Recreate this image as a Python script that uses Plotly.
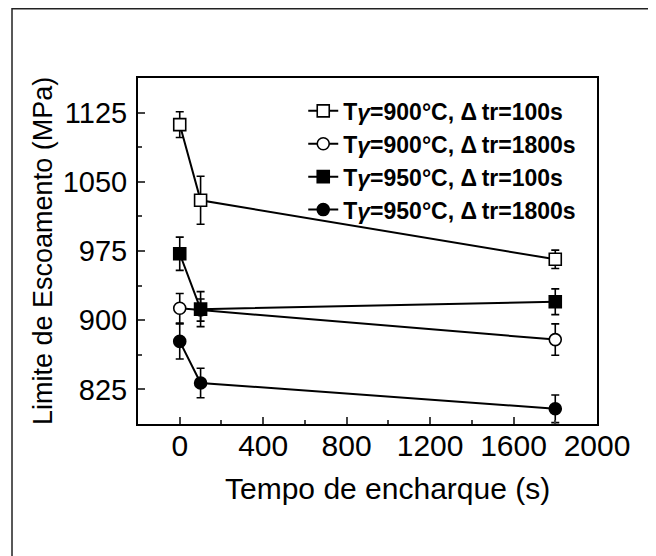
import plotly.graph_objects as go

times = [0, 100, 1800]
s1_vals = [1112, 1030, 966]
s1_err = [14, 26, 10]
s2_vals = [913, 911, 879]
s2_err = [16, 12, 17]
s3_vals = [972, 912, 920]
s3_err = [18, 19, 14]
s4_vals = [877, 832, 804]
s4_err = [19, 16, 15]

names = [
    "<b>T<i>γ</i>=900°C, Δ\u2009tr=100s</b>",
    "<b>T<i>γ</i>=900°C, Δ\u2009tr=1800s</b>",
    "<b>T<i>γ</i>=950°C, Δ\u2009tr=100s</b>",
    "<b>T<i>γ</i>=950°C, Δ\u2009tr=1800s</b>",
]
series = [(s1_vals, s1_err, "square", "white"),
          (s2_vals, s2_err, "circle", "white"),
          (s3_vals, s3_err, "square", "black"),
          (s4_vals, s4_err, "circle", "black")]

x_ticks = [0, 400, 800, 1200, 1600, 2000]
y_ticks = [825, 900, 975, 1050, 1125]

fig = go.Figure()
for (vals, err, sym, fill), nm in zip(series, names):
    fig.add_trace(go.Scatter(
        x=times, y=vals, name=nm, mode="lines+markers",
        line=dict(color="black", width=2),
        marker=dict(symbol=sym, size=12, color=fill, line=dict(color="black", width=1.6)),
        error_y=dict(type="data", array=err, visible=True, color="black", thickness=1.6, width=4),
    ))

font_family = "Liberation Sans, Arial, sans-serif"
fig.update_layout(
    width=656, height=556,
    margin=dict(l=130, r=67, t=70, b=140),
    paper_bgcolor="white", plot_bgcolor="white",
    font=dict(family=font_family, color="black", size=30),
    showlegend=True,
    legend=dict(x=0.36, y=0.967, xanchor="left", yanchor="top",
                bgcolor="rgba(0,0,0,0)", font=dict(size=23, family=font_family),
                itemsizing="trace", tracegroupgap=0),
    xaxis=dict(range=[-200, 2000], tickvals=x_ticks, ticks="inside", ticklen=7, tickwidth=2,
               showline=True, linewidth=2, linecolor="black", mirror=True, showgrid=False,
               zeroline=False, tickfont=dict(size=30), ticklabelstandoff=-6,
               minor=dict(ticks="inside", ticklen=4, tickwidth=2, dtick=200, tick0=0, showgrid=False)),
    yaxis=dict(range=[787.5, 1162.5], tickvals=y_ticks, ticks="inside", ticklen=7, tickwidth=2,
               showline=True, linewidth=2, linecolor="black", mirror=True, showgrid=False,
               zeroline=False, tickfont=dict(size=29), ticklabelstandoff=3,
               minor=dict(ticks="inside", ticklen=4, tickwidth=2, dtick=37.5, tick0=787.5, showgrid=False)),
    annotations=[
        dict(text="Tempo de encharque (s)", xref="paper", yref="paper", x=0.5425, y=-0.185,
             xanchor="center", yanchor="middle", showarrow=False, font=dict(size=30)),
        dict(text="Limite de Escoamento (MPa)", xref="paper", yref="paper", x=-0.207, y=0.5,
             xanchor="center", yanchor="middle", textangle=-90, showarrow=False, font=dict(size=27)),
    ],
    shapes=[dict(type="rect", xref="paper", yref="paper", x0=-0.2745, x1=1.1264, y0=-0.45, y1=1.2,
                 line=dict(color="#222", width=1.5), layer="below")],
)

fig.write_html("out.html")
